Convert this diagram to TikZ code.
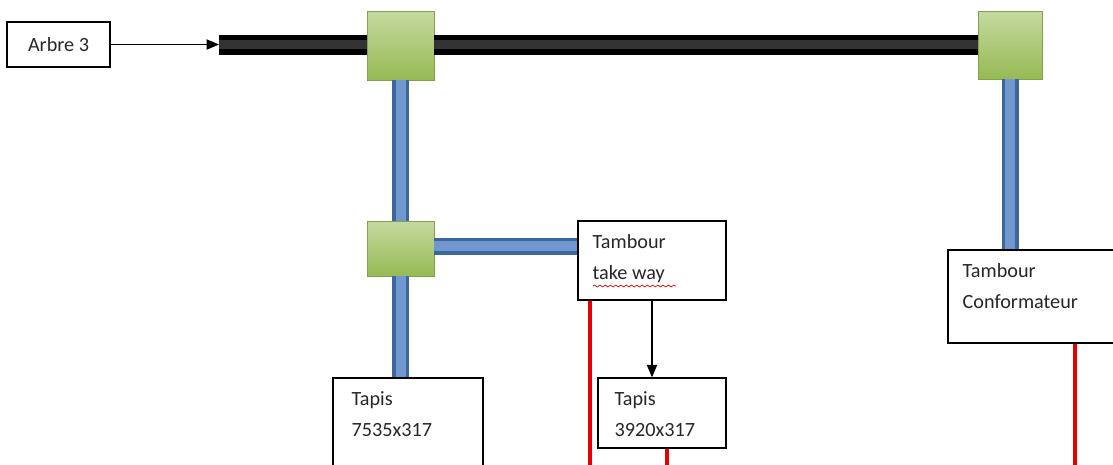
\documentclass[tikz,border=0pt]{standalone}
\usepackage{fontspec}
\setmainfont{Carlito}
\usetikzlibrary{arrows, positioning, decorations.pathmorphing}
\definecolor{blockgreen}{RGB}{150,186,84}
\definecolor{blocklight}{RGB}{198,217,160}
\definecolor{blockedge}{RGB}{130,162,72}
\definecolor{shaftblue}{RGB}{62,102,158}
\definecolor{shaftlight}{RGB}{112,152,206}
\definecolor{redline}{RGB}{232,0,0}

\begin{document}
\begin{tikzpicture}[x=0.02cm, y=-0.02cm, >=triangle 45]
\tikzstyle{box}=[draw, line width=0.8pt, rectangle, inner sep=0pt]
\tikzstyle{txt}=[anchor=north west, align=left, inner sep=0pt, text=black!85, font=\fontsize{11.5}{17.6}\selectfont]
\tikzstyle{block}=[rectangle, draw=blockedge, line width=0.4pt, top color=blocklight, bottom color=blockgreen, inner sep=0pt]
\tikzstyle{blackshaft}=[line width=0.4cm, black, postaction={draw=black!80, line width=0.18cm}]
\tikzstyle{blueshaft}=[line width=0.34cm, shaftblue, postaction={draw=shaftlight, line width=0.2cm}]
\tikzstyle{redwire}=[line width=0.08cm, redline]
\tikzstyle{spell}=[redline, line width=0.4pt, decorate, decoration={snake, amplitude=0.5pt, segment length=3pt}]
\useasboundingbox (0,0) rectangle (1113,464);
\clip (0,0) rectangle (1113,464);

% boxes
\node[box, minimum width=2.06cm, minimum height=0.9cm, text=black!85, font=\fontsize{11.5}{14}\selectfont] (arbre) at (58.5,44.5) {Arbre 3};
\node[box, minimum width=2.96cm, minimum height=1.58cm] (take) at (652,260.5) {};
\node[box, minimum width=3.0cm, minimum height=2.04cm] (tapisA) at (408,429) {};
\node[box, minimum width=2.56cm, minimum height=1.4cm] (tapisB) at (662,413) {};
\node[box, minimum width=3.54cm, minimum height=1.86cm] (conf) at (1036.5,296.5) {};

% texts
\node[txt] (takeT) at ([shift={(15,14)}]take.north west) {Tambour\\take way};
\node[txt] (tapisAT) at ([shift={(19,14)}]tapisA.north west) {Tapis\\7535x317};
\node[txt] (tapisBT) at ([shift={(17,14)}]tapisB.north west) {Tapis\\3920x317};
\node[txt] (confT) at ([shift={(15,14)}]conf.north west) {Tambour\\Conformateur};
\draw[spell] (593,286) -- (676,286);

% green blocks
\node[block, minimum width=1.34cm, minimum height=1.38cm] (g1) at (400.5,45.5) {};
\node[block, minimum width=1.28cm, minimum height=1.36cm] (g2) at (1010,45) {};
\node[block, minimum width=1.34cm, minimum height=1.1cm] (g3) at (400.5,248.5) {};

% shafts
\coordinate (shaftL) at (219,44.5);
\draw[blackshaft] (shaftL) -- (shaftL -| g1.west);
\draw[blackshaft] (g1.east |- shaftL) -- (g2.west |- shaftL);
\draw[blueshaft] (g1.south) -- (g3.north);
\draw[blueshaft] (g3.south) -- (g3.south |- tapisA.north);
\draw[blueshaft] ([yshift=0.05cm]g3.east) -- ([yshift=0.05cm]g3.east -| take.west);
\draw[blueshaft] (g2.south) -- (g2.south |- conf.north);

% arrows
\draw[->, line width=0.6pt] (arbre.east) -- (shaftL);
\draw[->, line width=0.6pt] (take.south) -- (take.south |- tapisB.north);

% red wires
\coordinate (redA) at (590,470);
\coordinate (redB) at (667,470);
\coordinate (redC) at (1075,470);
\draw[redwire] (redA |- take.south) -- (redA);
\draw[redwire] (redB |- tapisB.south) -- (redB);
\draw[redwire] (redC |- conf.south) -- (redC);
\end{tikzpicture}
\end{document}
